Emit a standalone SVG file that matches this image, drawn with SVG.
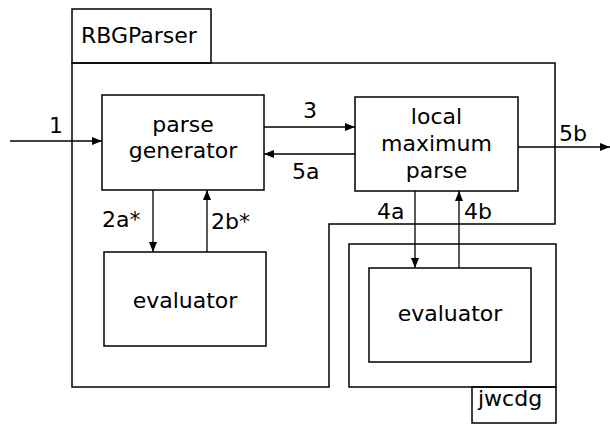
<svg xmlns="http://www.w3.org/2000/svg" width="610" height="424" viewBox="0 0 610 424">
<style>
.b{fill:none;stroke:#000;stroke-width:1.5}
.c{fill:none;stroke:#000;stroke-width:1.3}
text{font-family:"DejaVu Sans",sans-serif;font-size:22px;fill:#000}
.m{text-anchor:middle}
</style>
<defs>
<marker id="ah" viewBox="0 0 10 8" refX="10" refY="4" markerWidth="10" markerHeight="8" markerUnits="userSpaceOnUse" orient="auto">
<path d="M0,0 L10,4 L0,8 Z" fill="#000"/>
</marker>
</defs>
<rect width="610" height="424" fill="#fff"/>
<g id="rbgparser">
<rect class="b" x="72" y="9" width="139" height="54"/>
<text x="81" y="43">RBGParser</text>
<path class="b" d="M72,63 H555 V224 H329 V387 H72 Z"/>
</g>
<g id="jwcdg">
<rect class="b" x="349" y="244" width="207" height="143"/>
<rect class="b" x="472" y="387" width="84" height="36"/>
<text x="478" y="406">jwcdg</text>
</g>
<g id="parse-generator">
<rect class="b" x="102" y="95" width="162" height="95"/>
<text class="m" x="183" y="132">parse</text>
<text class="m" x="183" y="158">generator</text>
</g>
<g id="evaluator1">
<rect class="b" x="104" y="252" width="162" height="94"/>
<text class="m" x="185" y="308">evaluator</text>
</g>
<g id="local-maximum-parse">
<rect class="b" x="355" y="97" width="163" height="94"/>
<text class="m" x="436.5" y="124">local</text>
<text class="m" x="436.5" y="151">maximum</text>
<text class="m" x="436.5" y="178">parse</text>
</g>
<g id="evaluator2">
<rect class="b" x="369" y="268" width="162" height="94"/>
<text class="m" x="450" y="321">evaluator</text>
</g>
<g id="connectors">
<line class="c" x1="10" y1="141" x2="102" y2="141" marker-end="url(#ah)"/>
<line class="c" x1="264" y1="127" x2="355" y2="127" marker-end="url(#ah)"/>
<line class="c" x1="355" y1="154" x2="264" y2="154" marker-end="url(#ah)"/>
<line class="c" x1="518" y1="147" x2="610" y2="147" marker-end="url(#ah)"/>
<line class="c" x1="153" y1="190" x2="153" y2="252" marker-end="url(#ah)"/>
<line class="c" x1="207" y1="252" x2="207" y2="190" marker-end="url(#ah)"/>
<line class="c" x1="415" y1="191" x2="415" y2="268" marker-end="url(#ah)"/>
<line class="c" x1="459" y1="268" x2="459" y2="191" marker-end="url(#ah)"/>
<text x="49" y="133">1</text>
<text class="m" x="310" y="118">3</text>
<text x="292" y="179">5a</text>
<text x="559" y="141">5b</text>
<text x="102" y="227">2a*</text>
<text x="211" y="229">2b*</text>
<text x="377" y="219">4a</text>
<text x="464" y="219">4b</text>
</g>
</svg>
